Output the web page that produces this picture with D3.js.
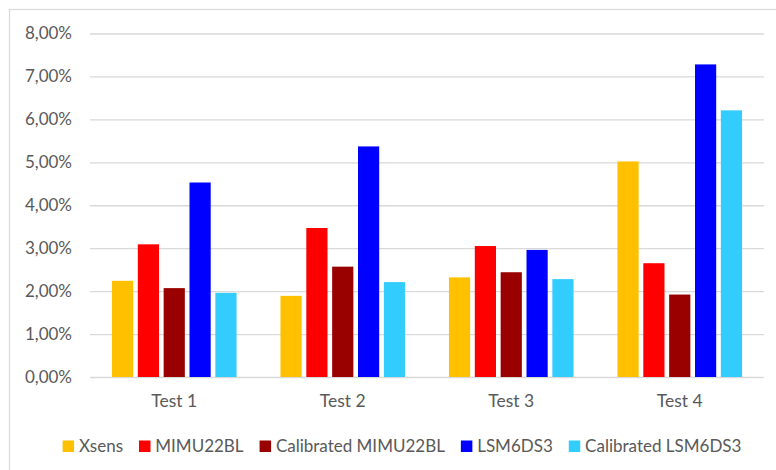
<!DOCTYPE html>
<html>
<head>
<meta charset="utf-8">
<script src="https://cdn.jsdelivr.net/npm/d3@7"></script>
<style>
  html, body { margin: 0; padding: 0; background: #fff; }
  svg { display: block; }
</style>
</head>
<body>
<svg id="chart" width="776" height="470"></svg>
<script>
// Error values (%) per test, one array per sensor series
const categories = ["Test 1", "Test 2", "Test 3", "Test 4"];
const seriesNames = ["Xsens", "MIMU22BL", "Calibrated MIMU22BL", "LSM6DS3", "Calibrated LSM6DS3"];
const xsens          = [2.24, 1.89, 2.32, 5.02];
const mimu22bl       = [3.09, 3.47, 3.05, 2.65];
const calMimu22bl    = [2.07, 2.57, 2.44, 1.92];
const lsm6ds3        = [4.53, 5.37, 2.96, 7.28];
const calLsm6ds3     = [1.96, 2.21, 2.28, 6.21];
const yTicks = [0, 1, 2, 3, 4, 5, 6, 7, 8];
const seriesColors = ["#FFC000", "#FF0000", "#990000", "#0000FF", "#33CCFF"];

const seriesValues = [xsens, mimu22bl, calMimu22bl, lsm6ds3, calLsm6ds3];
const rows = categories.map((c, i) => ({
  category: c,
  values: seriesNames.map((s, k) => ({ series: s, value: seriesValues[k][i] }))
}));

const svg = d3.select("#chart");
const font = "Lato, 'Open Sans', sans-serif";
const textColor = "#595959";
const gridColor = "#D9D9D9";

// outer chart frame (continues past the right and bottom edges)
svg.append("rect")
  .attr("x", 9.5).attr("y", 9.5)
  .attr("width", 800).attr("height", 500)
  .attr("fill", "#fff").attr("stroke", gridColor).attr("stroke-width", 1.2);

const plot = { left: 90, right: 764, top: 33.5, bottom: 377 };

const x0 = d3.scaleBand().domain(categories).range([plot.left, plot.right]).padding(0);
const groupWidth = x0.bandwidth() * 0.767;
const x1 = d3.scaleBand().domain(seriesNames).range([0, groupWidth])
  .paddingInner(0.18).paddingOuter(0.09);
const y = d3.scaleLinear().domain([0, 8]).range([plot.bottom, plot.top]);
const color = d3.scaleOrdinal().domain(seriesNames).range(seriesColors);

// horizontal gridlines with percentage labels
const yAxis = d3.axisLeft(y)
  .tickValues(yTicks)
  .tickSize(-(plot.right - plot.left))
  .tickPadding(18)
  .tickFormat(d => d3.format(".2f")(d).replace(".", ",") + "%");

const gy = svg.append("g")
  .attr("transform", `translate(${plot.left},0)`)
  .call(yAxis);
gy.select(".domain").remove();
gy.selectAll(".tick line").attr("stroke", gridColor).attr("stroke-width", 1.3);
gy.selectAll(".tick text")
  .attr("fill", textColor)
  .attr("font-family", font)
  .attr("font-size", 17);

// bars
const groups = svg.append("g").selectAll("g")
  .data(rows)
  .join("g")
  .attr("transform", d => `translate(${x0(d.category) + (x0.bandwidth() - groupWidth) / 2},0)`);

groups.selectAll("rect")
  .data(d => d.values)
  .join("rect")
  .attr("x", d => x1(d.series))
  .attr("width", x1.bandwidth())
  .attr("y", d => y(d.value))
  .attr("height", d => y(0) - y(d.value))
  .attr("fill", d => color(d.series));

// category axis labels
const xAxis = d3.axisBottom(x0).tickSize(0).tickPadding(18);
const gx = svg.append("g")
  .attr("transform", `translate(0,${plot.bottom})`)
  .call(xAxis);
gx.select(".domain").remove();
gx.selectAll(".tick text")
  .attr("fill", textColor)
  .attr("font-family", font)
  .attr("font-size", 17.5);

// legend
const legend = svg.append("g");
const items = legend.selectAll("g")
  .data(seriesNames)
  .join("g");
items.append("rect")
  .attr("width", 11.5).attr("height", 11.5)
  .attr("y", 440.5)
  .attr("fill", d => color(d));
items.append("text")
  .attr("x", 16.3)
  .attr("y", 452)
  .attr("fill", textColor)
  .attr("font-family", font)
  .attr("font-size", 17)
  .text(d => d);

let cursor = 0;
const offsets = [];
items.each(function() {
  offsets.push(cursor);
  const w = d3.select(this).select("text").node().getComputedTextLength();
  cursor += 16.3 + w + 16;
});
const legendWidth = cursor - 16;
const legendStart = 402 - legendWidth / 2;
items.attr("transform", (d, i) => `translate(${legendStart + offsets[i]},0)`);
</script>
</body>
</html>
